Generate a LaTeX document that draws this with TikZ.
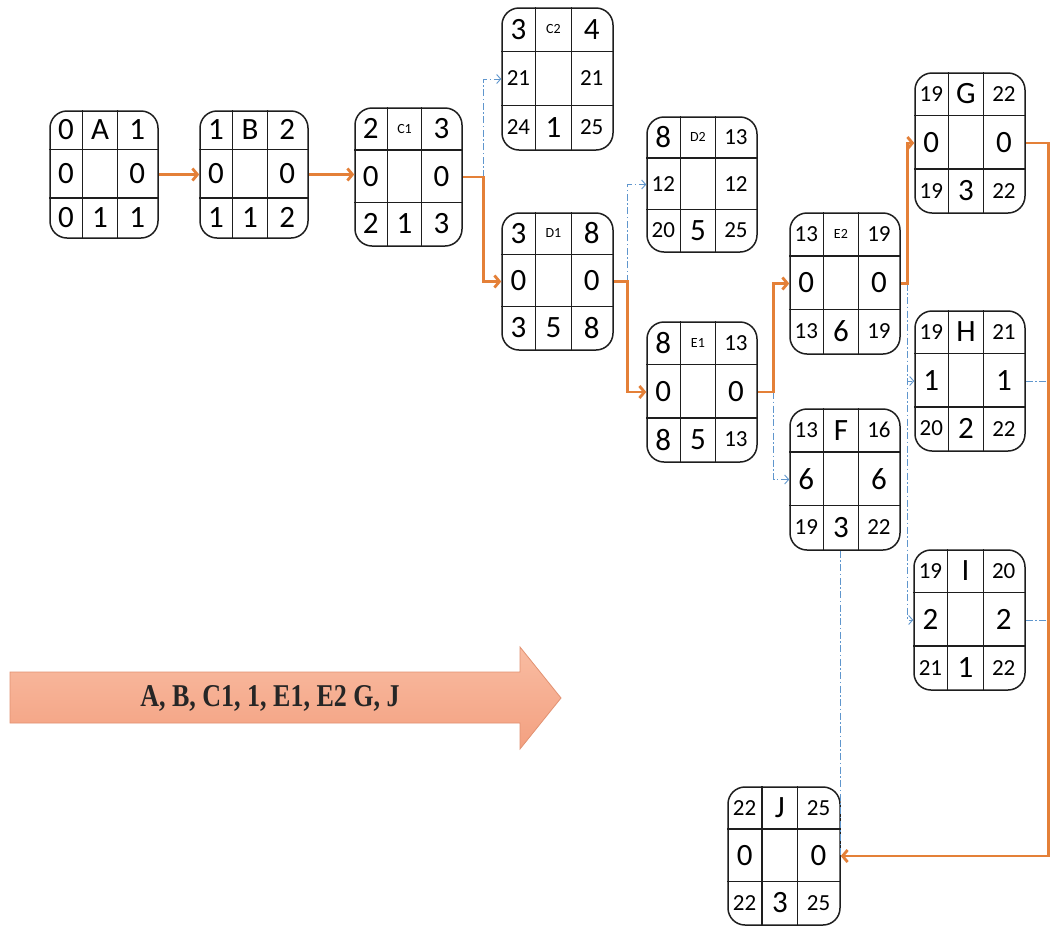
\documentclass[tikz,border=0pt]{standalone}
\usepackage{fontspec}
\usepackage{graphicx}
\setmainfont{Carlito}
\newfontfamily\arrowfont{Liberation Serif}
\usetikzlibrary{arrows.meta,calc}
\definecolor{critc}{RGB}{228,128,56}
\definecolor{dummyc}{RGB}{95,150,205}
\definecolor{boxc}{RGB}{30,30,30}
\definecolor{arrfill}{RGB}{243,160,128}
\definecolor{arrtop}{RGB}{249,188,162}
\definecolor{arredge}{RGB}{226,146,114}
\newcommand\szL{\fontsize{31}{33}\selectfont}
\newcommand\szM{\fontsize{23}{25}\selectfont}
\newcommand\szS{\fontsize{14}{16}\selectfont}
\tikzset{
 pbox/.style={draw=boxc, line width=1.5pt, rounded corners=17pt, rectangle, inner sep=0pt, fill=white},
 gridline/.style={draw=boxc, line width=1.3pt},
 crit/.style={draw=critc, line width=2.8pt, -{Straight Barb[length=5pt,width=12pt]}},
 dummy/.style={draw=dummyc, line width=0.9pt, dash pattern=on 7pt off 2.5pt on 1.5pt off 2.5pt, -{Straight Barb[length=4pt,width=9pt]}},
 dummynh/.style={draw=dummyc, line width=0.9pt, dash pattern=on 7pt off 2.5pt on 1.5pt off 2.5pt},
 cell/.style={inner sep=0pt, text=black},
 sumtext/.style={font=\arrowfont\bfseries\fontsize{26}{28}\selectfont, text=black!85, inner sep=0pt}
}
\newcommand\pbox[5]{%
 \pgfmathsetmacro\pw{#4-#2}%
 \pgfmathsetmacro\ph{#5-#3}%
 \node[pbox, minimum width=\pw pt, minimum height=\ph pt] (#1) at ({(#2+#4)/2},{(#3+#5)/2}) {};
 \draw[gridline] ($(#1.north west)+(0.31*\pw,0)$) -- ($(#1.south west)+(0.31*\pw,0)$);
 \draw[gridline] ($(#1.north west)+(0.63*\pw,0)$) -- ($(#1.south west)+(0.63*\pw,0)$);
 \draw[gridline] ($(#1.north west)+(0,0.31*\ph)$) -- ($(#1.north east)+(0,0.31*\ph)$);
 \draw[gridline] ($(#1.north west)+(0,0.69*\ph)$) -- ($(#1.north east)+(0,0.69*\ph)$);
 \foreach \fy [count=\ri] in {0.155,0.5,0.845}{\foreach \fx [count=\ci] in {0.155,0.47,0.815}{\coordinate (#1-\ri\ci) at ($(#1.north west)+(\fx*\pw,\fy*\ph)$);}}
}
\newcommand\pcells[9]{%
 \node[cell] (#1-t1) at (#1-11) {#2};
 \node[cell] (#1-t2) at (#1-12) {#3};
 \node[cell] (#1-t3) at (#1-13) {#4};
 \node[cell] (#1-t4) at (#1-21) {#5};
 \node[cell] (#1-t6) at (#1-23) {#6};
 \node[cell] (#1-t7) at (#1-31) {#7};
 \node[cell] (#1-t8) at (#1-32) {#8};
 \node[cell] (#1-t9) at (#1-33) {#9};
}
\begin{document}
\begin{tikzpicture}[x=1pt,y=-1pt]
\fill[white] (0,0) rectangle (1057,927);
\useasboundingbox (0,0) rectangle (1057,927);

\pbox{A}{50}{111}{158}{238}
\pcells{A}{\szL 0}{\szL A}{\szL 1}{\szL 0}{\szL 0}{\szL 0}{\szL 1}{\szL 1}
\pbox{B}{200}{111}{308}{238}
\pcells{B}{\szL 1}{\szL B}{\szL 2}{\szL 0}{\szL 0}{\szL 1}{\szL 1}{\szL 2}
\pbox{C1}{355}{108}{462}{246}
\pcells{C1}{\szL 2}{\szS C1}{\szL 3}{\szL 0}{\szL 0}{\szL 2}{\szL 1}{\szL 3}
\pbox{C2}{502}{8}{613}{150}
\pcells{C2}{\szL 3}{\szS C2}{\szL 4}{\szM 21}{\szM 21}{\szM 24}{\szL 1}{\szM 25}
\pbox{D1}{502}{213}{613}{350}
\pcells{D1}{\szL 3}{\szS D1}{\szL 8}{\szL 0}{\szL 0}{\szL 3}{\szL 5}{\szL 8}
\pbox{D2}{647}{117}{757}{252}
\pcells{D2}{\szL 8}{\szS D2}{\szM 13}{\szM 12}{\szM 12}{\szM 20}{\szL 5}{\szM 25}
\pbox{E1}{647}{322}{757}{462}
\pcells{E1}{\szL 8}{\szS E1}{\szM 13}{\szL 0}{\szL 0}{\szL 8}{\szL 5}{\szM 13}
\pbox{E2}{790}{213}{900}{354}
\pcells{E2}{\szM 13}{\szS E2}{\szM 19}{\szL 0}{\szL 0}{\szM 13}{\szL 6}{\szM 19}
\pbox{F}{790}{409}{900}{550}
\pcells{F}{\szM 13}{\szL F}{\szM 16}{\szL 6}{\szL 6}{\szM 19}{\szL 3}{\szM 22}
\pbox{G}{915}{73}{1025}{213}
\pcells{G}{\szM 19}{\szL G}{\szM 22}{\szL 0}{\szL 0}{\szM 19}{\szL 3}{\szM 22}
\pbox{H}{915}{311}{1025}{451}
\pcells{H}{\szM 19}{\szL H}{\szM 21}{\szL 1}{\szL 1}{\szM 20}{\szL 2}{\szM 22}
\pbox{I}{914}{550}{1025}{690}
\pcells{I}{\szM 19}{\szL I}{\szM 20}{\szL 2}{\szL 2}{\szM 21}{\szL 1}{\szM 22}
\pbox{J}{728}{787}{840}{925}
\pcells{J}{\szM 22}{\szL J}{\szM 25}{\szL 0}{\szL 0}{\szM 22}{\szL 3}{\szM 25}

% junction points
\coordinate (k1) at ($(C1.east)+(21,0)$);
\coordinate (k2) at ($(D1.east)+(14,0)$);
\coordinate (k3) at ($(E1.east)+(16,0)$);
\coordinate (k4) at ($(E2.east)+(7,0)$);
\coordinate (k5) at ($(G.east)+(23,0)$);
\coordinate (k6) at (H.east -| k5);
\coordinate (k7) at (I.east -| k5);
\coordinate (k8) at (F.south -| J.east);

% non-critical (dashed) connectors
\draw[dummy] (k1) |- (C2.west);
\draw[dummy] (k2) |- (D2.west);
\draw[dummy] (k3) |- (F.west);
\draw[dummy] (k4) |- (H.west);
\draw[dummy] (k4) |- (I.west);
\draw[dummynh] (H.east) -- (k6);
\draw[dummynh] (I.east) -- (k7);
\draw[dummynh] (k8) -- (J.east);

% critical path
\draw[crit] (A.east) -- (A.east -| B.west);
\draw[crit] (B.east) -- (B.east -| C1.west);
\draw[crit] (C1.east) -- (k1) |- (D1.west);
\draw[crit] (D1.east) -- (k2) |- (E1.west);
\draw[crit] (E1.east) -- (k3) |- (E2.west);
\draw[crit] (E2.east) -- (k4) |- (G.west);
\draw[crit] (G.east) -- (k5) |- (J.east);

% summary arrow
\shade[top color=arrtop, bottom color=arrfill, draw=arredge, line width=0.8pt]
 (10,672) -- (520,672) -- (520,647) -- (561,698) -- (520,749) -- (520,723) -- (10,723) -- cycle;
\node[sumtext] (summary) at (270,698) {\scalebox{1}[1.22]{A, B, C1, 1, E1, E2 G, J}};
\end{tikzpicture}
\end{document}
